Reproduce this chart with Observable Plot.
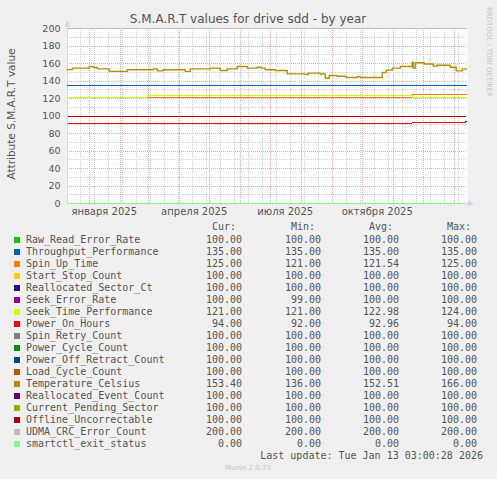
<!DOCTYPE html>
<html><head><meta charset="utf-8">
<script src="https://cdn.jsdelivr.net/npm/d3@7"></script>
<script src="https://cdn.jsdelivr.net/npm/@observablehq/plot@0.6"></script>
<style>
html,body{margin:0;padding:0;background:#F0F0F0;}
#wrap{position:relative;width:497px;height:479px;overflow:hidden;font-family:"DejaVu Sans",sans-serif;color:#555;}
#chart{position:absolute;left:0;top:0;}
.t{position:absolute;white-space:nowrap;}
.leg{position:absolute;font-family:"DejaVu Sans Mono",monospace;font-size:10px;line-height:12px;white-space:pre;color:#555;}
.r{text-align:right;width:100px;}
.sq{position:absolute;width:6px;height:6px;}
</style></head><body><div id="wrap"><div id="chart"></div></div>
<script>
// ---------- data ----------
const names = ["Raw_Read_Error_Rate","Throughput_Performance","Spin_Up_Time","Start_Stop_Count","Reallocated_Sector_Ct","Seek_Error_Rate","Seek_Time_Performance","Power_On_Hours","Spin_Retry_Count","Power_Cycle_Count","Power_Off_Retract_Count","Load_Cycle_Count","Temperature_Celsius","Reallocated_Event_Count","Current_Pending_Sector","Offline_Uncorrectable","UDMA_CRC_Error_Count","smartctl_exit_status"];
const colors = ["#00CC00","#0066B3","#FF8000","#FFCC00","#330099","#990099","#CCFF00","#FF0000","#808080","#008F00","#00487D","#B35A00","#B38F00","#6B006B","#8FB300","#B30000","#BEBEBE","#80FF80"];
const curVals = [100,135,125,100,100,100,121,94,100,100,100,100,153.40,100,100,100,200,0];
const minVals = [100,135,121,100,100,99,121,92,100,100,100,100,136,100,100,100,200,0];
const avgVals = [100,135,121.54,100,100,100,122.98,92.96,100,100,100,100,152.51,100,100,100,200,0];
const maxVals = [100,135,125,100,100,100,124,94,100,100,100,100,166,100,100,100,200,0];

const xStart = "2024-12-10T07:00", xEnd = "2026-01-14T07:00";
const dataStart = "2024-12-10T07:00", dataEnd = "2026-01-13T03:00";

const spinUpDates = ["2025-11-20"], spinUpValues = [121, 125];
const seekErrDates = ["2025-07-07", "2025-07-08"], seekErrValues = [100, 99, 100];
const seekTimeDates = ["2025-02-28", "2025-11-20"], seekTimeValues = [121, 124, 121];
const powerOnDates = ["2025-11-20", "2026-01-12"], powerOnValues = [92, 93, 94];

const tempDates = ["2024-12-10","2024-12-15","2024-12-30","2025-01-01","2025-01-05","2025-01-09","2025-01-19","2025-01-21","2025-02-04","2025-02-08","2025-02-28","2025-03-06","2025-03-10","2025-03-13","2025-03-16","2025-04-05","2025-04-07","2025-04-12","2025-04-29","2025-05-02","2025-05-09","2025-05-12","2025-05-19","2025-05-25","2025-05-29","2025-06-01","2025-06-08","2025-06-14","2025-06-18","2025-06-22","2025-06-26","2025-07-04","2025-07-06","2025-07-14","2025-07-18","2025-07-31","2025-08-04","2025-08-08","2025-08-17","2025-08-20","2025-08-25","2025-08-29","2025-09-01","2025-09-06","2025-09-12","2025-09-15","2025-09-22","2025-09-26","2025-09-29","2025-10-19","2025-10-21","2025-10-25","2025-10-31","2025-11-05","2025-11-08","2025-11-18","2025-11-20","2025-11-21","2025-11-23","2025-11-28","2025-12-02","2025-12-08","2025-12-11","2025-12-15","2025-12-25","2025-12-28","2025-12-31","2026-01-03","2026-01-05","2026-01-09","2026-01-13"];
const tempValues = [153,154.7,154.7,156.6,155.4,153.9,153.9,151,151,152.8,152.8,153.9,151.6,151.6,152.8,152.8,151,153.9,153.9,154.7,154.7,152,153.9,153.9,156.6,156.6,154.7,154.7,155.8,154.7,152.8,152.8,152,152,148.2,148.2,147.4,149,149,148,143.2,146.3,146.3,145.5,145.5,144,144,145,144,144,149.7,152.4,154.7,154.7,156.6,156.6,161.5,154.7,160.8,160.8,159.4,159.4,157,158,158,155.8,155.8,151.6,151.6,153.9,153.4];

const monthTicks = ["2025-01-16","2025-04-16","2025-07-16","2025-10-16"];
const monthLabels = ["января 2025","апреля 2025","июля 2025","октября 2025"];
const yTicks = [0,20,40,60,80,100,120,140,160,180,200];
const yMinor = [10,30,50,70,90,110,130,150,170,190];

// ---------- build ----------
const D = s => new Date(s.length === 10 ? s + "T00:00" : s);
function stepSeries(dates, values) {
  const pts = [{date: D(dataStart), value: values[0]}];
  dates.forEach((d, i) => pts.push({date: D(d), value: values[i + 1]}));
  pts.push({date: D(dataEnd), value: values[values.length - 1]});
  return pts;
}
const special = {
  "Spin_Up_Time": stepSeries(spinUpDates, spinUpValues),
  "Seek_Error_Rate": stepSeries(seekErrDates, seekErrValues),
  "Seek_Time_Performance": stepSeries(seekTimeDates, seekTimeValues),
  "Power_On_Hours": stepSeries(powerOnDates, powerOnValues),
  "Temperature_Celsius": tempDates.map((d, i) => ({date: D(d), value: tempValues[i]})).concat([{date: D(dataEnd), value: tempValues[tempValues.length-1]}])
};
const rows = [];
names.forEach((n, i) => {
  const pts = special[n] || stepSeries([], [curVals[i]]);
  pts.forEach(p => rows.push({series: n, order: i, date: p.date, value: p.value}));
});
const tempIdx = names.indexOf("Temperature_Celsius");
const rowsBefore = rows.filter(r => r.order < tempIdx);
const rowsTemp = rows.filter(r => r.order === tempIdx);
const rowsAfter = rows.filter(r => r.order > tempIdx);

const x0 = D(xStart), x1 = D(xEnd);
const monthLines = d3.timeMonth.range(D("2025-01-01"), x1);
const weekLines = d3.timeDay.range(D("2024-12-23"), x1, 14);
const labelMap = new Map(monthTicks.map((d, i) => [+D(d), monthLabels[i]]));
const crisp = {shapeRendering: "crispEdges"};
const lineOpts = {x: "date", y: "value", z: "series", stroke: "series", curve: "step-after", strokeWidth: 1, ...crisp};

const chart = Plot.plot({
  width: 497, height: 220,
  marginLeft: 67, marginRight: 30, marginTop: 28, marginBottom: 17,
  style: {background: "transparent", fontFamily: "DejaVu Sans", fontSize: "9.5px", color: "#555", overflow: "visible"},
  x: {type: "time", domain: [x0, x1], axis: null},
  y: {domain: [0, 200], axis: null},
  color: {domain: names, range: colors},
  marks: [
    Plot.frame({fill: "white", stroke: null}),
    Plot.ruleY(yMinor, {stroke: "#D2D2D2", strokeDasharray: "1,1", ...crisp}),
    Plot.ruleX(weekLines, {stroke: "#D2D2D2", strokeDasharray: "1,1", ...crisp}),
    Plot.ruleY(yTicks, {stroke: "#EDA8A8", strokeDasharray: "1,1", ...crisp}),
    Plot.ruleX(monthLines, {stroke: "#EDA8A8", strokeDasharray: "1,1", ...crisp}),
    Plot.ruleX([x0], {stroke: "#CFD6F8", ...crisp}),
    Plot.ruleY([0], {stroke: "#CFD6F8", ...crisp}),
    Plot.line(rowsBefore, lineOpts),
    Plot.line(rowsTemp, {x: "date", y: "value", stroke: "series", curve: "step-after", strokeWidth: 1.4}),
    Plot.line(rowsAfter, lineOpts),
    Plot.ruleY([200], {stroke: "#EDA8A8", strokeDasharray: "1,1", ...crisp}),
    Plot.ruleY([0], {stroke: "#F4F4F4", strokeDasharray: "1,7", strokeDashoffset: -6, strokeWidth: 1, ...crisp}),
    Plot.axisY(yTicks, {tickSize: 0, tickPadding: 7, label: null, fill: "#555"}),
    Plot.axisX(monthTicks.map(D), {tickSize: 0, tickPadding: 4, label: null, fontSize: 10, fill: "#555", tickFormat: d => labelMap.get(+d)})
  ]
});
document.getElementById("chart").appendChild(chart);

// axis arrows (positions from the scales)
const sx = chart.scale("x"), sy = chart.scale("y");
const ax = sx.apply(x0) + 0.5, ay = sy.apply(200), bx = sx.apply(x1), by = sy.apply(0) + 0.5;
const svg = d3.select(chart);
svg.append("path").attr("d", `M${ax-3},${ay-1}L${ax},${ay-8}L${ax+3},${ay-1}Z`).attr("fill", "#CFD6F8");
svg.append("path").attr("d", `M${bx+1},${by-3}L${bx+7},${by}L${bx+1},${by+3}Z`).attr("fill", "#CFD6F8");

// ---------- texts ----------
const wrap = document.getElementById("wrap");
function add(cls, text, style) {
  const el = document.createElement("div");
  el.className = cls; el.textContent = text; Object.assign(el.style, style);
  wrap.appendChild(el); return el;
}
add("t", "S.M.A.R.T values for drive sdd - by year", {left: "248px", top: "19px", fontSize: "12px", transform: "translate(-50%,-50%)", color: "#555"});
add("t", "Attribute S.M.A.R.T value", {left: "11px", top: "114px", fontSize: "10.5px", transform: "translate(-50%,-50%) rotate(-90deg)", color: "#555"});
add("t", "RRDTOOL / TOBI OETIKER", {left: "489px", top: "52px", fontSize: "7px", transform: "translate(-50%,-50%) rotate(90deg)", color: "#C4C4C4"});

const colRight = [242, 321, 399, 477];
const heads = ["Cur:", "Min:", "Avg:", "Max:"];
heads.forEach((h, j) => add("leg r", h, {left: (colRight[j] - 6 - 100) + "px", top: "221px"}));
names.forEach((n, i) => {
  const top = 233.8 + 12 * i;
  const sq = document.createElement("div");
  sq.className = "sq"; sq.style.left = "14px"; sq.style.top = (top + 3.2) + "px"; sq.style.background = colors[i];
  wrap.appendChild(sq);
  add("leg", n, {left: "26px", top: top + "px"});
  [curVals, minVals, avgVals, maxVals].forEach((arr, j) =>
    add("leg r", arr[i].toFixed(2), {left: (colRight[j] - 100) + "px", top: top + "px"}));
});
add("leg r", "Last update: Tue Jan 13 03:00:28 2026", {left: (483 - 300) + "px", width: "300px", top: "449.6px"});
add("t", "Munin 2.0.73", {left: "248px", top: "468px", fontSize: "7px", transform: "translate(-50%,-50%)", color: "#C4C4C4"});
</script></body></html>
